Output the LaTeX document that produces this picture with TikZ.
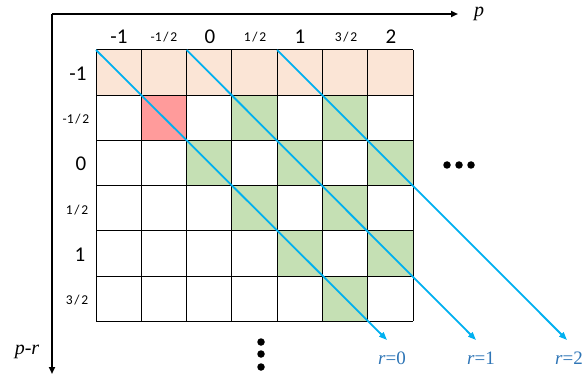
\documentclass[tikz,border=0pt]{standalone}
\usepackage{fontspec}
\setmainfont{Carlito}
\newfontfamily\itf{Liberation Serif}
\usetikzlibrary{arrows.meta}
\definecolor{peach}{HTML}{FBE5D6}
\definecolor{redc}{HTML}{FF9B9B}
\definecolor{greenc}{HTML}{C5E0B4}
\definecolor{lineblue}{HTML}{00B0F0}
\definecolor{labblue}{HTML}{2E75B6}
\newcommand\fracsl{\kern1.8pt/\kern1.8pt}
\tikzset{
  axis/.style={line width=1.8pt,-{Triangle[length=7pt,width=6pt]}},
  gridl/.style={line width=1pt,black},
  diag/.style={line width=1.8pt,lineblue,-{Triangle[length=8pt,width=6pt]}},
  big/.style={font=\fontsize{21}{21}\selectfont,inner sep=0pt},
  small/.style={font=\fontsize{13.5}{13.5}\selectfont,inner sep=0pt},
  rlab/.style={font=\fontsize{19}{19}\selectfont\itf,text=labblue,inner sep=0pt},
  axlab/.style={font=\fontsize{20}{20}\selectfont\itf\itshape,inner sep=0pt},
  dot/.style={circle,fill=black,minimum size=7.5pt,inner sep=0pt},
}
\begin{document}
\begin{tikzpicture}[x=1pt,y=-1pt]
\useasboundingbox (0,0) rectangle (584,377);
\def\W{45.3}\def\H{45.2}
% fills
\fill[peach] (96,50) rectangle (413,95.2);
\fill[redc] (96+\W,50+\H) rectangle ++(\W,\H);
\foreach \c/\r in {3/1,5/1,2/2,4/2,6/2,3/3,5/3,4/4,6/4,5/5}{
  \fill[greenc] (96+\c*\W,50+\r*\H) rectangle ++(\W,\H);
}
% grid
\foreach \i in {0,...,7}{ \draw[gridl] (96+\i*\W,50) -- (96+\i*\W,50+6*\H); }
\foreach \j in {0,...,6}{ \draw[gridl] (96,50+\j*\H) -- (96+7*\W,50+\j*\H); }
% axes
\coordinate (O) at (52,14);
\coordinate (PX) at (458,14);
\coordinate (PY) at (52,374);
\draw[axis] (O) -- (PX);
\draw[axis] (O) -- (PY);
\node[axlab] (plab) at (479,14) {p};
\node[axlab] (prlab) at (27,352) {p-r};
% column labels
\node[big] (c1) at (119,37) {-1};
\node[small] (c2) at (164,37) {-1\fracsl2};
\node[big] (c3) at (210,37) {0};
\node[small] (c4) at (255,37) {1\fracsl2};
\node[big] (c5) at (300,37) {1};
\node[small] (c6) at (346,37) {3\fracsl2};
\node[big] (c7) at (391,37) {2};
% row labels
\node[big] (r1) at (78,74) {-1};
\node[small] (r2) at (76,119) {-1\fracsl2};
\node[big] (r3) at (81,164) {0};
\node[small] (r4) at (77,210) {1\fracsl2};
\node[big] (r5) at (80,255) {1};
\node[small] (r6) at (77,300) {3\fracsl2};
% diagonals
\coordinate (s0) at (96,50);
\coordinate (s1) at (186.6,50);
\coordinate (s2) at (277.2,50);
\coordinate (e0) at (387,340);
\coordinate (e1) at (476,340);
\coordinate (e2) at (567,340);
\draw[diag] (s0) -- (e0);
\draw[diag] (s1) -- (e1);
\draw[diag] (s2) -- (e2);
\node[rlab] (l0) at (392,358) {{\itshape r}=0};
\node[rlab] (l1) at (481,358) {{\itshape r}=1};
\node[rlab] (l2) at (569,358) {{\itshape r}=2};
% dots
\node[dot] (d1) at (447,165) {};
\node[dot] (d2) at (459,165) {};
\node[dot] (d3) at (471,165) {};
\node[dot] (v1) at (261,342) {};
\node[dot] (v2) at (261,354) {};
\node[dot] (v3) at (261,367) {};
\end{tikzpicture}
\end{document}
